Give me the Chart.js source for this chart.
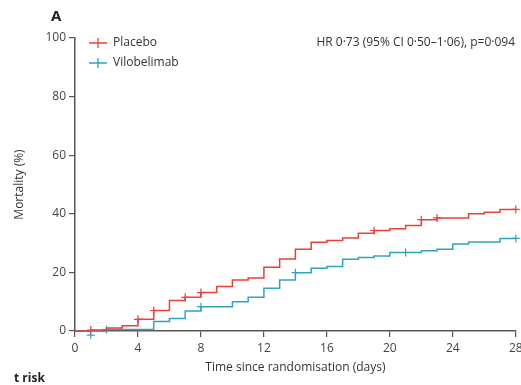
<!DOCTYPE html>
<html>
<head>
<meta charset="utf-8">
<script src="https://cdn.jsdelivr.net/npm/chart.js@4"></script>
<style>
  html, body { margin: 0; padding: 0; background: #fff; }
  #wrap { width: 521px; height: 385px; }
</style>
</head>
<body>
<div id="wrap"><canvas id="km-chart" width="521" height="385"></canvas></div>
<script>
// Kaplan-Meier steps (day, cumulative mortality %)
const placeboDays   = [0, 1, 2, 3, 4, 5, 6, 7, 8, 9, 10, 11, 12, 13, 14, 15, 16, 17, 18, 19, 20, 21, 22, 23, 25, 26, 27, 28];
const placeboValues = [0, 0.3, 1, 1.8, 4, 7, 10.4, 11.5, 13.1, 15.2, 17.4, 18.1, 21.8, 24.6, 27.9, 30.3, 30.9, 31.7, 33.4, 34.3, 34.9, 36, 38, 38.6, 40, 40.5, 41.5, 41.5];
const viloDays   = [0, 1, 2, 5, 6, 7, 8, 10, 11, 12, 13, 14, 15, 16, 17, 18, 19, 20, 22, 23, 24, 25, 27, 28];
const viloValues = [0, 0, 0.5, 3.2, 4.3, 6.8, 8.3, 10, 11.5, 14.6, 17.4, 19.9, 21.4, 22, 24.5, 25.1, 25.6, 26.8, 27.4, 27.9, 29.7, 30.4, 31.6, 31.6];

// censoring marks
const placeboCensDays   = [1, 4, 5, 7, 8, 19, 22, 23, 28];
const placeboCensValues = [0.3, 4, 7, 11.5, 13.1, 34.3, 38, 38.6, 41.5];
const viloCensDays   = [1, 2, 8, 14, 21, 28];
const viloCensValues = [-1.4, 0.5, 8.3, 19.9, 26.8, 31.6];

const xTicks = [0, 4, 8, 12, 16, 20, 24, 28];
const yTicks = [0, 20, 40, 60, 80, 100];

const RED = '#e8413c';
const TEAL = '#2ea5bd';
const AXIS = '#555555';
const FONT = "'Open Sans', sans-serif";

const toXY = (xs, ys) => xs.map((x, i) => ({ x: x, y: ys[i] }));

// extra text: panel letter, legend, HR, number at risk
const annotations = {
    id: 'annotations',
    afterDraw(chart) {
        const c = chart.ctx;
        c.save();
        c.fillStyle = '#222';
        c.font = "bold 15px " + FONT;
        c.textBaseline = 'middle';
        c.fillText('A', 51, 17);
        c.font = "bold 12px " + FONT;
        c.fillText('t risk', 14, 379);

        // legend
        const items = [['Placebo', RED, 43], ['Vilobelimab', TEAL, 63]];
        items.forEach(([label, col, y]) => {
            c.strokeStyle = col;
            c.lineWidth = 1.3;
            c.beginPath();
            c.moveTo(89, y); c.lineTo(107, y);
            c.moveTo(98, y - 5); c.lineTo(98, y + 5);
            c.stroke();
            c.fillStyle = '#333';
            c.font = "12px " + FONT;
            c.textAlign = 'left';
            c.fillText(label, 113, y);
        });

        c.textAlign = 'right';
        c.fillText('HR 0·73 (95% CI 0·50–1·06), p=0·094', 515, 43);
        c.restore();
    }
};

const ctx = document.getElementById('km-chart').getContext('2d');
const kmChart = new Chart(ctx, {
    type: 'line',
    data: {
        datasets: [
            {
                label: 'Placebo',
                data: toXY(placeboDays, placeboValues),
                borderColor: RED,
                borderWidth: 1.5,
                stepped: true,
                pointRadius: 0,
                fill: false,
                clip: false
            },
            {
                label: 'Vilobelimab',
                data: toXY(viloDays, viloValues),
                borderColor: TEAL,
                borderWidth: 1.5,
                stepped: true,
                pointRadius: 0,
                fill: false,
                clip: false
            },
            {
                label: 'Placebo censored',
                data: toXY(placeboCensDays, placeboCensValues),
                showLine: false,
                pointStyle: 'cross',
                pointRadius: 4,
                borderColor: RED,
                borderWidth: 1.2,
                clip: false
            },
            {
                label: 'Vilobelimab censored',
                data: toXY(viloCensDays, viloCensValues),
                showLine: false,
                pointStyle: 'cross',
                pointRadius: 4,
                borderColor: TEAL,
                borderWidth: 1.2,
                clip: false
            }
        ]
    },
    options: {
        responsive: false,
        animation: false,
        layout: { padding: { top: 38, right: 5, left: 0, bottom: 0 } },
        scales: {
            x: {
                type: 'linear',
                min: 0,
                max: 28,
                afterBuildTicks: (s) => { s.ticks = xTicks.map(v => ({ value: v })); },
                afterFit: (s) => { s.height = 54; s.paddingRight = 0; s.paddingLeft = 0; },
                grid: { drawOnChartArea: false, drawTicks: true, tickLength: 6, color: AXIS, lineWidth: 1.2 },
                border: { color: AXIS, width: 1.5 },
                ticks: { color: '#444', font: { family: FONT, size: 12 }, padding: 4, maxRotation: 0 },
                title: {
                    display: true,
                    text: 'Time since randomisation (days)',
                    color: '#333',
                    font: { family: FONT, size: 12 },
                    padding: { top: 0, bottom: 10 }
                }
            },
            y: {
                min: 0,
                max: 100,
                afterBuildTicks: (s) => { s.ticks = yTicks.map(v => ({ value: v })); },
                afterFit: (s) => { s.width = 75; },
                grid: { drawOnChartArea: false, drawTicks: true, tickLength: 6, color: AXIS, lineWidth: 1.2 },
                border: { color: AXIS, width: 1.5 },
                ticks: { color: '#444', font: { family: FONT, size: 12 }, padding: 3 },
                title: {
                    display: true,
                    text: 'Mortality (%)',
                    color: '#333',
                    font: { family: FONT, size: 12 },
                    padding: { top: 12, bottom: 0 }
                }
            }
        },
        plugins: {
            legend: { display: false },
            tooltip: { enabled: false }
        }
    },
    plugins: [annotations]
});
</script>
</body>
</html>
